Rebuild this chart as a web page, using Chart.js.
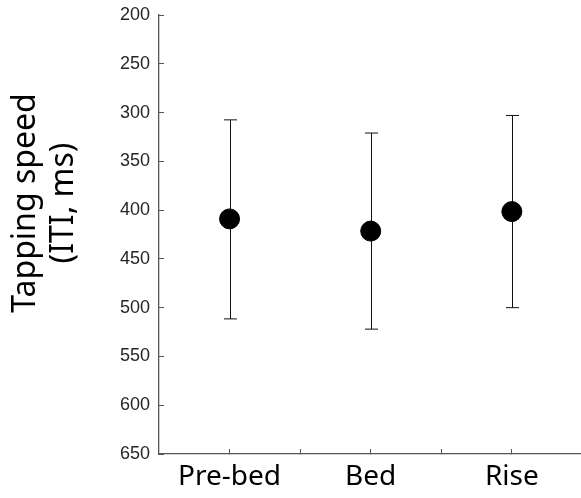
<!DOCTYPE html>
<html>
<head>
<meta charset="utf-8">
<script src="https://cdn.jsdelivr.net/npm/chart.js@4/dist/chart.umd.min.js"></script>
<style>
  html, body { margin: 0; padding: 0; background: #fff; }
  #wrap { width: 581px; height: 498px; position: relative; }
</style>
</head>
<body>
<div id="wrap"><canvas id="chart"></canvas></div>
<script>
// 各条件的平均值及误差线上下端（ms）
const categories = ['Pre-bed', 'Bed', 'Rise'];
const meanIti = [409, 421.5, 401.5];
const barTop = [307.5, 321, 303];
const barBottom = [511.5, 522, 500];
const yTitleLines = ['Tapping speed', '(ITI, ms)'];

const axisColor = '#555';

// 误差线，画在圆点下面
const errorBars = {
  id: 'errorBars',
  beforeDatasetsDraw(chart) {
    const { ctx, scales: { x, y } } = chart;
    ctx.save();
    ctx.strokeStyle = '#111';
    ctx.lineWidth = 1;
    categories.forEach((c, i) => {
      const px = Math.round(x.getPixelForValue(i + 1)) + 0.5;
      const y1 = y.getPixelForValue(barTop[i]);
      const y2 = y.getPixelForValue(barBottom[i]);
      ctx.beginPath();
      ctx.moveTo(px, y1);
      ctx.lineTo(px, y2);
      ctx.moveTo(px - 6.5, y1);
      ctx.lineTo(px + 6.5, y1);
      ctx.moveTo(px - 6.5, y2);
      ctx.lineTo(px + 6.5, y2);
      ctx.stroke();
    });
    ctx.restore();
  }
};

// y轴标题（两行，旋转）
const yTitle = {
  id: 'yTitle',
  afterDraw(chart) {
    const { ctx } = chart;
    ctx.save();
    ctx.fillStyle = '#000';
    ctx.font = '32px "Noto Sans"';
    ctx.textAlign = 'center';
    ctx.textBaseline = 'alphabetic';
    const baselines = [35, 73];
    yTitleLines.forEach((line, i) => {
      ctx.save();
      ctx.translate(baselines[i], 203);
      ctx.rotate(-Math.PI / 2);
      ctx.fillText(line, 0, 0);
      ctx.restore();
    });
    ctx.restore();
  }
};

// 去掉刻度标签带来的额外边距
function noPadding(scale) {
  scale.paddingTop = 0;
  scale.paddingBottom = 0;
  scale.paddingLeft = 0;
  scale.paddingRight = 0;
}

new Chart(document.getElementById('chart'), {
  type: 'scatter',
  data: {
    datasets: [{
      data: categories.map((c, i) => ({ x: i + 1, y: meanIti[i] })),
      backgroundColor: '#000',
      borderColor: '#000',
      pointRadius: 10,
      pointHoverRadius: 10,
    }]
  },
  options: {
    responsive: true,
    maintainAspectRatio: false,
    animation: false,
    events: [],
    layout: { autoPadding: false, padding: { top: 15, right: 0, bottom: 0, left: 0 } },
    plugins: {
      legend: { display: false },
      tooltip: { enabled: false },
    },
    scales: {
      x: {
        type: 'linear',
        min: 0.5,
        max: 3.49,
        afterBuildTicks(scale) {
          scale.ticks = [1, 1.5, 2, 2.5, 3].map(v => ({ value: v }));
        },
        afterFit(scale) { scale.height = 44; noPadding(scale); },
        border: { color: axisColor, width: 1.3 },
        grid: { drawOnChartArea: false, tickLength: -5, color: axisColor, lineWidth: 1 },
        ticks: {
          padding: 11,
          color: '#000',
          font: { family: '"Noto Sans"', size: 28 },
          callback: v => Number.isInteger(v) ? categories[v - 1] : '',
          maxRotation: 0,
          autoSkip: false,
        },
      },
      y: {
        reverse: true,
        min: 200,
        max: 650,
        afterFit(scale) { scale.width = 159; noPadding(scale); },
        border: { color: axisColor, width: 1.3 },
        grid: { drawOnChartArea: false, tickLength: -5, color: axisColor, lineWidth: 1 },
        ticks: {
          stepSize: 50,
          padding: 14,
          color: '#262626',
          font: { family: '"Liberation Sans"', size: 18 },
        },
      },
    },
  },
  plugins: [errorBars, yTitle],
});
</script>
</body>
</html>
